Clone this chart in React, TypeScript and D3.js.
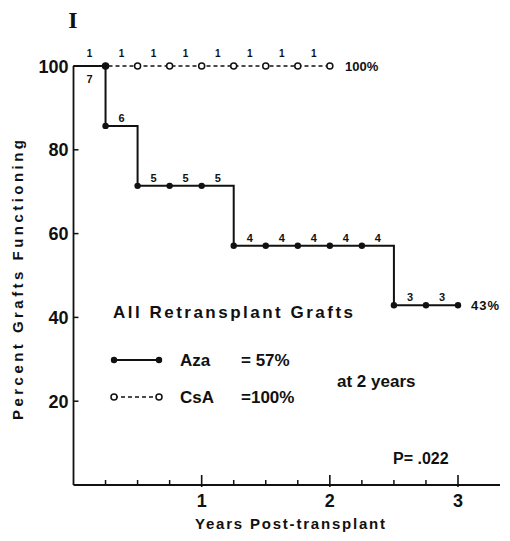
import React, { useEffect, useRef } from 'react';
import * as d3 from 'd3';

// Aza (azathioprine) step curve, percent grafts functioning
const azaTimes = [0, 0.25, 0.5, 1.25, 2.5, 3.0];
const azaValues = [100, 85.7, 71.4, 57.1, 42.9, 42.9];
const azaDotTimes = [0.25, 0.25, 0.5, 0.75, 1.0, 1.25, 1.5, 1.75, 2.0, 2.25, 2.5, 2.75, 3.0];
const azaDotValues = [100, 85.7, 71.4, 71.4, 71.4, 57.1, 57.1, 57.1, 57.1, 57.1, 42.9, 42.9, 42.9];
const azaRiskTimes = [0.125, 0.375, 0.625, 0.875, 1.125, 1.375, 1.625, 1.875, 2.125, 2.375, 2.625, 2.875];
const azaRisk = [7, 6, 5, 5, 5, 4, 4, 4, 4, 4, 3, 3];

// CsA (cyclosporine)
const csaTimes = [0, 2.0];
const csaValues = [100, 100];
const csaDotTimes = [0.25, 0.5, 0.75, 1.0, 1.25, 1.5, 1.75, 2.0];
const csaRiskTimes = [0.125, 0.375, 0.625, 0.875, 1.125, 1.375, 1.625, 1.875];
const csaRisk = [1, 1, 1, 1, 1, 1, 1, 1];

const yTicks = [20, 40, 60, 80, 100];
const xMajorTicks = [1, 2, 3];
const xMinorTicks = [0.25, 0.5, 0.75, 1.25, 1.5, 1.75, 2.25, 2.5, 2.75];

const FONT = '"Liberation Sans", Arial, sans-serif';

const App = () => {
  const ref = useRef<SVGSVGElement>(null);

  useEffect(() => {
    const svg = d3.select(ref.current);
    svg.selectAll('*').remove();
    const width = 510, height = 541;
    svg.attr('width', width).attr('height', height);

    const x = d3.scaleLinear().domain([0, 3]).range([73.5, 458]);
    const y = d3.scaleLinear().domain([0, 100]).range([485, 66]);

    const g = svg.append('g').style('font-family', FONT).style('font-weight', 'bold');

    // axes
    g.append('line').attr('x1', x(0)).attr('x2', x(0)).attr('y1', y(0)).attr('y2', y(100))
      .attr('stroke', '#111').attr('stroke-width', 1.8);
    g.append('line').attr('x1', x(0)).attr('x2', 500).attr('y1', y(0)).attr('y2', y(0))
      .attr('stroke', '#111').attr('stroke-width', 1.8);

    g.selectAll('.ytick').data(yTicks).join('line')
      .attr('x1', x(0)).attr('x2', x(0) + 5)
      .attr('y1', d => y(d)).attr('y2', d => y(d))
      .attr('stroke', '#111').attr('stroke-width', 1.5);
    g.selectAll('.ylab').data(yTicks).join('text')
      .attr('x', x(0) - 5).attr('y', d => y(d) + 6.5)
      .attr('text-anchor', 'end').attr('font-size', 18).attr('fill', '#111')
      .text(d => d);

    g.selectAll('.xminor').data(xMinorTicks).join('line')
      .attr('x1', d => x(d)).attr('x2', d => x(d))
      .attr('y1', y(0)).attr('y2', y(0) - 5)
      .attr('stroke', '#111').attr('stroke-width', 1.5);
    g.selectAll('.xmajor').data(xMajorTicks).join('line')
      .attr('x1', d => x(d)).attr('x2', d => x(d))
      .attr('y1', y(0) + 2).attr('y2', y(0) - 10)
      .attr('stroke', '#111').attr('stroke-width', 1.6);
    g.selectAll('.xlab').data(xMajorTicks).join('text')
      .attr('x', d => x(d)).attr('y', 507)
      .attr('text-anchor', 'middle').attr('font-size', 18).attr('fill', '#111')
      .text(d => d);

    // axis titles
    g.append('text').attr('x', 290).attr('y', 529).attr('text-anchor', 'middle')
      .attr('font-size', 15).attr('fill', '#111')
      .attr('textLength', 190).attr('lengthAdjust', 'spacing')
      .text('Years  Post-transplant');
    g.append('text').attr('transform', 'translate(23,280) rotate(-90)')
      .attr('text-anchor', 'middle').attr('font-size', 15).attr('fill', '#111')
      .attr('textLength', 280).attr('lengthAdjust', 'spacing')
      .text('Percent  Grafts  Functioning');

    // panel label
    g.append('text').attr('x', 73).attr('y', 28).attr('text-anchor', 'middle')
      .attr('font-family', '"Liberation Serif", serif').attr('font-size', 24).attr('fill', '#111')
      .text('I');

    // CsA dashed line
    const csaLine = d3.line<number>().x(d => x(d)).y((d, i) => y(csaValues[i]));
    g.append('path').attr('d', csaLine(csaTimes))
      .attr('fill', 'none').attr('stroke', '#111').attr('stroke-width', 1.3)
      .attr('stroke-dasharray', '4,3');
    g.selectAll('.csadot').data(csaDotTimes).join('circle')
      .attr('cx', d => x(d)).attr('cy', y(100)).attr('r', 3)
      .attr('fill', '#fff').attr('stroke', '#111').attr('stroke-width', 1.5);
    g.selectAll('.csarisk').data(csaRisk).join('text')
      .attr('x', (d, i) => x(csaRiskTimes[i])).attr('y', y(100) - 9)
      .attr('text-anchor', 'middle').attr('font-size', 10).attr('fill', '#111')
      .text(d => d);
    g.append('text').attr('x', 345).attr('y', y(100) + 5)
      .attr('font-size', 13).attr('fill', '#111').text('100%');

    // Aza step line
    const azaLine = d3.line<number>().x(d => x(d)).y((d, i) => y(azaValues[i])).curve(d3.curveStepAfter);
    g.append('path').attr('d', azaLine(azaTimes))
      .attr('fill', 'none').attr('stroke', '#111').attr('stroke-width', 2);
    g.selectAll('.azadot').data(azaDotTimes).join('circle')
      .attr('cx', d => x(d)).attr('cy', (d, i) => y(azaDotValues[i])).attr('r', 3.2)
      .attr('fill', '#111');
    g.selectAll('.azarisk').data(azaRisk).join('text')
      .attr('x', (d, i) => x(azaRiskTimes[i]))
      .attr('y', (d, i) => {
        const t = azaRiskTimes[i];
        const v = azaValues[d3.bisectRight(azaTimes, t) - 1];
        return i === 0 ? y(v) + 17 : y(v) - 4;
      })
      .attr('text-anchor', 'middle').attr('font-size', 11).attr('fill', '#111')
      .text(d => d);
    g.append('text').attr('x', 471).attr('y', y(42.9) + 5)
      .attr('font-size', 13).attr('letter-spacing', 1).attr('fill', '#111').text('43%');

    // legend
    g.append('text').attr('x', 113).attr('y', 318).attr('font-size', 17).attr('fill', '#111')
      .attr('textLength', 240).attr('lengthAdjust', 'spacing')
      .text('All  Retransplant  Grafts');

    const legY1 = 360, legY2 = 397;
    g.append('line').attr('x1', 114).attr('x2', 159).attr('y1', legY1).attr('y2', legY1)
      .attr('stroke', '#111').attr('stroke-width', 2);
    g.selectAll('.legdot').data([114, 159]).join('circle')
      .attr('cx', d => d).attr('cy', legY1).attr('r', 3.2).attr('fill', '#111');
    g.append('line').attr('x1', 114).attr('x2', 159).attr('y1', legY2).attr('y2', legY2)
      .attr('stroke', '#111').attr('stroke-width', 1.3).attr('stroke-dasharray', '4,3');
    g.selectAll('.legdot2').data([114, 159]).join('circle')
      .attr('cx', d => d).attr('cy', legY2).attr('r', 3).attr('fill', '#fff')
      .attr('stroke', '#111').attr('stroke-width', 1.5);

    g.append('text').attr('x', 180).attr('y', legY1 + 6).attr('font-size', 17).attr('fill', '#111').text('Aza');
    g.append('text').attr('x', 241).attr('y', legY1 + 6).attr('font-size', 17).attr('fill', '#111').text('= 57%');
    g.append('text').attr('x', 180).attr('y', legY2 + 6).attr('font-size', 17).attr('fill', '#111').text('CsA');
    g.append('text').attr('x', 241).attr('y', legY2 + 6).attr('font-size', 17).attr('fill', '#111').text('=100%');
    g.append('text').attr('x', 337).attr('y', 387).attr('font-size', 17).attr('fill', '#111').text('at  2  years');
    g.append('text').attr('x', 393).attr('y', 464).attr('font-size', 16).attr('fill', '#111').text('P= .022');
  }, []);

  return <svg ref={ref} style={{ position: 'absolute', left: 0, top: 0, background: '#fff' }} />;
};

export default App;
